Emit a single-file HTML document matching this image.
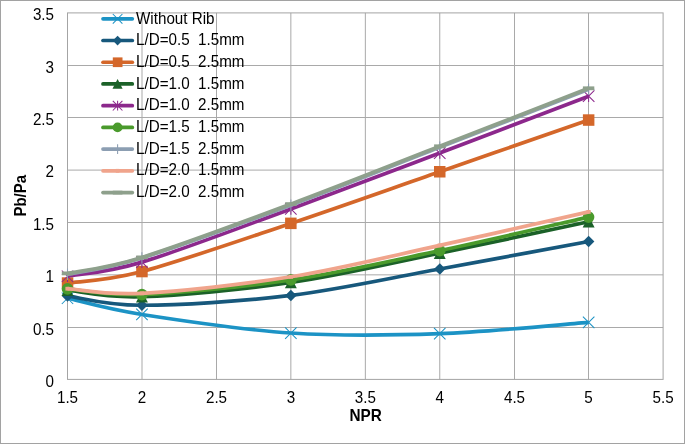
<!DOCTYPE html>
<html><head><meta charset="utf-8"><title>Chart</title>
<style>html,body{margin:0;padding:0;background:#fff}svg{display:block}text{font-family:"Liberation Sans",Arial,sans-serif;fill:#000;white-space:pre}</style></head>
<body>
<svg width="685" height="444" viewBox="0 0 685 444">
<rect x="0" y="0" width="685" height="444" fill="#fff"/>
<rect x="0.5" y="0.5" width="684" height="443" fill="none" stroke="#A2A2A2" stroke-width="1"/>
<path d="M142.00,12.90 V379.40 M216.50,12.90 V379.40 M290.85,12.90 V379.40 M365.35,12.90 V379.40 M439.75,12.90 V379.40 M514.50,12.90 V379.40 M588.50,12.90 V379.40 M67.50,65.50 H663.10 M67.50,117.50 H663.10 M67.50,170.10 H663.10 M67.50,222.50 H663.10 M67.50,274.85 H663.10 M67.50,327.50 H663.10" stroke="#A9A9A9" stroke-width="1" fill="none"/>
<rect x="67.5" y="12.9" width="595.6" height="366.5" fill="none" stroke="#A4A4A4" stroke-width="1"/>
<text transform="translate(54,20.1) scale(1,1.055)" font-size="15.2" text-anchor="end">3.5</text>
<text transform="translate(54,72.7) scale(1,1.055)" font-size="15.2" text-anchor="end">3</text>
<text transform="translate(54,124.7) scale(1,1.055)" font-size="15.2" text-anchor="end">2.5</text>
<text transform="translate(54,177.3) scale(1,1.055)" font-size="15.2" text-anchor="end">2</text>
<text transform="translate(54,229.7) scale(1,1.055)" font-size="15.2" text-anchor="end">1.5</text>
<text transform="translate(54,282.1) scale(1,1.055)" font-size="15.2" text-anchor="end">1</text>
<text transform="translate(54,334.7) scale(1,1.055)" font-size="15.2" text-anchor="end">0.5</text>
<text transform="translate(54,386.6) scale(1,1.055)" font-size="15.2" text-anchor="end">0</text>
<text transform="translate(67.5,402.8) scale(1,1.05)" font-size="15.2" text-anchor="middle">1.5</text>
<text transform="translate(142.0,402.8) scale(1,1.05)" font-size="15.2" text-anchor="middle">2</text>
<text transform="translate(216.5,402.8) scale(1,1.05)" font-size="15.2" text-anchor="middle">2.5</text>
<text transform="translate(290.9,402.8) scale(1,1.05)" font-size="15.2" text-anchor="middle">3</text>
<text transform="translate(365.4,402.8) scale(1,1.05)" font-size="15.2" text-anchor="middle">3.5</text>
<text transform="translate(439.8,402.8) scale(1,1.05)" font-size="15.2" text-anchor="middle">4</text>
<text transform="translate(514.5,402.8) scale(1,1.05)" font-size="15.2" text-anchor="middle">4.5</text>
<text transform="translate(588.5,402.8) scale(1,1.05)" font-size="15.2" text-anchor="middle">5</text>
<text transform="translate(663.1,402.8) scale(1,1.05)" font-size="15.2" text-anchor="middle">5.5</text>
<text transform="translate(365.7,421) scale(1.01,1.03)" font-size="15.2" font-weight="bold" text-anchor="middle">NPR</text>
<text transform="translate(25.6,195.8) rotate(-90) scale(0.985,1.07)" font-size="15.2" font-weight="bold" text-anchor="middle">Pb/Pa</text>
<path d="M67.50,298.25 C79.91,300.95 104.72,308.68 141.95,314.48 C179.17,320.27 241.22,329.82 290.85,333.01 C340.48,336.21 390.12,335.42 439.75,333.64 C489.38,331.86 563.83,324.22 588.65,322.33" stroke="#1C93C5" stroke-width="3.7" fill="none" stroke-linecap="butt" stroke-linejoin="round"/>
<path d="M61.8,292.5 L73.2,304.0 M61.8,304.0 L73.2,292.5" stroke="#1C93C5" stroke-width="1.05" fill="none"/>
<path d="M136.2,308.7 L147.7,320.2 M136.2,320.2 L147.7,308.7" stroke="#1C93C5" stroke-width="1.05" fill="none"/>
<path d="M285.1,327.3 L296.6,338.8 M285.1,338.8 L296.6,327.3" stroke="#1C93C5" stroke-width="1.05" fill="none"/>
<path d="M434.0,327.9 L445.5,339.4 M434.0,339.4 L445.5,327.9" stroke="#1C93C5" stroke-width="1.05" fill="none"/>
<path d="M582.9,316.6 L594.4,328.1 M582.9,328.1 L594.4,316.6" stroke="#1C93C5" stroke-width="1.05" fill="none"/>
<path d="M67.50,295.94 C79.91,297.50 104.72,305.35 141.95,305.26 C179.17,305.18 241.22,301.46 290.85,295.42 C340.48,289.38 390.12,278.02 439.75,269.03 C489.38,260.04 563.83,246.08 588.65,241.49" stroke="#17587C" stroke-width="3.7" fill="none" stroke-linecap="butt" stroke-linejoin="round"/>
<path d="M67.5,290.2 L73.2,295.9 L67.5,301.7 L61.8,295.9 Z" fill="#17587C"/>
<path d="M141.9,299.5 L147.7,305.3 L141.9,311.0 L136.2,305.3 Z" fill="#17587C"/>
<path d="M290.9,289.7 L296.6,295.4 L290.9,301.2 L285.1,295.4 Z" fill="#17587C"/>
<path d="M439.8,263.3 L445.5,269.0 L439.8,274.8 L434.0,269.0 Z" fill="#17587C"/>
<path d="M588.6,235.7 L594.4,241.5 L588.6,247.2 L582.9,241.5 Z" fill="#17587C"/>
<path d="M67.50,283.06 C79.91,281.14 104.72,281.49 141.95,271.54 C179.17,261.60 241.22,240.01 290.85,223.38 C340.48,206.74 390.12,188.98 439.75,171.75 C489.38,154.53 563.83,128.64 588.65,120.02" stroke="#D4672A" stroke-width="3.7" fill="none" stroke-linecap="butt" stroke-linejoin="round"/>
<rect x="61.8" y="277.3" width="11.5" height="11.5" fill="#D4672A"/>
<rect x="136.2" y="265.8" width="11.5" height="11.5" fill="#D4672A"/>
<rect x="285.1" y="217.6" width="11.5" height="11.5" fill="#D4672A"/>
<rect x="434.0" y="166.0" width="11.5" height="11.5" fill="#D4672A"/>
<rect x="582.9" y="114.3" width="11.5" height="11.5" fill="#D4672A"/>
<path d="M67.50,290.18 C79.91,291.27 104.72,297.95 141.95,296.68 C179.17,295.40 241.22,289.78 290.85,282.54 C340.48,275.30 390.12,263.34 439.75,253.22 C489.38,243.10 563.83,227.04 588.65,221.80" stroke="#1B6128" stroke-width="3.7" fill="none" stroke-linecap="butt" stroke-linejoin="round"/>
<path d="M67.5,284.4 L73.5,295.9 L61.5,295.9 Z" fill="#1B6128"/>
<path d="M141.9,290.9 L147.9,302.4 L136.0,302.4 Z" fill="#1B6128"/>
<path d="M290.9,276.8 L296.8,288.3 L284.9,288.3 Z" fill="#1B6128"/>
<path d="M439.8,247.5 L445.7,259.0 L433.8,259.0 Z" fill="#1B6128"/>
<path d="M588.6,216.1 L594.6,227.6 L582.7,227.6 Z" fill="#1B6128"/>
<path d="M67.50,276.26 C79.91,273.90 104.72,273.34 141.95,262.12 C179.17,250.90 241.22,227.11 290.85,208.93 C340.48,190.74 390.12,171.80 439.75,153.01 C489.38,134.21 563.83,105.62 588.65,96.15" stroke="#8C288C" stroke-width="3.7" fill="none" stroke-linecap="butt" stroke-linejoin="round"/>
<path d="M61.8,270.5 L73.2,282.0 M61.8,282.0 L73.2,270.5 M67.5,270.5 L67.5,282.0" stroke="#8C288C" stroke-width="1.05" fill="none"/>
<path d="M136.2,256.4 L147.7,267.9 M136.2,267.9 L147.7,256.4 M141.9,256.4 L141.9,267.9" stroke="#8C288C" stroke-width="1.05" fill="none"/>
<path d="M285.1,203.2 L296.6,214.7 M285.1,214.7 L296.6,203.2 M290.9,203.2 L290.9,214.7" stroke="#8C288C" stroke-width="1.05" fill="none"/>
<path d="M434.0,147.3 L445.5,158.8 M434.0,158.8 L445.5,147.3 M439.8,147.3 L439.8,158.8" stroke="#8C288C" stroke-width="1.05" fill="none"/>
<path d="M582.9,90.4 L594.4,101.9 M582.9,101.9 L594.4,90.4 M588.6,90.4 L588.6,101.9" stroke="#8C288C" stroke-width="1.05" fill="none"/>
<path d="M67.50,288.93 C79.91,289.87 104.72,296.08 141.95,294.58 C179.17,293.08 241.22,287.25 290.85,279.92 C340.48,272.59 390.12,261.07 439.75,250.60 C489.38,240.13 563.83,222.68 588.65,217.09" stroke="#4A9A2C" stroke-width="3.7" fill="none" stroke-linecap="butt" stroke-linejoin="round"/>
<circle cx="67.5" cy="288.9" r="5.8" fill="#4A9A2C"/>
<circle cx="141.9" cy="294.6" r="5.8" fill="#4A9A2C"/>
<circle cx="290.9" cy="279.9" r="5.8" fill="#4A9A2C"/>
<circle cx="439.8" cy="250.6" r="5.8" fill="#4A9A2C"/>
<circle cx="588.6" cy="217.1" r="5.8" fill="#4A9A2C"/>
<path d="M67.50,274.37 C79.91,271.63 104.72,269.47 141.95,257.93 C179.17,246.40 241.22,223.59 290.85,205.16 C340.48,186.73 390.12,166.66 439.75,147.35 C489.38,128.05 563.83,99.01 588.65,89.34" stroke="#8C9EB2" stroke-width="3.7" fill="none" stroke-linecap="butt" stroke-linejoin="round"/>
<path d="M61.8,274.4 L73.2,274.4 M67.5,268.6 L67.5,280.1" stroke="#8C9EB2" stroke-width="1.05" fill="none"/>
<path d="M136.2,257.9 L147.7,257.9 M141.9,252.2 L141.9,263.7" stroke="#8C9EB2" stroke-width="1.05" fill="none"/>
<path d="M285.1,205.2 L296.6,205.2 M290.9,199.4 L290.9,210.9" stroke="#8C9EB2" stroke-width="1.05" fill="none"/>
<path d="M434.0,147.4 L445.5,147.4 M439.8,141.6 L439.8,153.1" stroke="#8C9EB2" stroke-width="1.05" fill="none"/>
<path d="M582.9,89.3 L594.4,89.3 M588.6,83.6 L588.6,95.1" stroke="#8C9EB2" stroke-width="1.05" fill="none"/>
<path d="M67.50,288.72 C79.91,289.49 104.72,295.31 141.95,293.32 C179.17,291.34 241.22,284.77 290.85,276.78 C340.48,268.79 390.12,256.19 439.75,245.37 C489.38,234.55 563.83,217.44 588.65,211.86" stroke="#F0A48C" stroke-width="3.7" fill="none" stroke-linecap="butt" stroke-linejoin="round"/>
<rect x="65.4" y="286.8" width="4.2" height="3.8" fill="#F0A48C"/>
<rect x="139.8" y="291.4" width="4.2" height="3.8" fill="#F0A48C"/>
<rect x="288.8" y="274.9" width="4.2" height="3.8" fill="#F0A48C"/>
<rect x="437.6" y="243.5" width="4.2" height="3.8" fill="#F0A48C"/>
<rect x="586.5" y="210.0" width="4.2" height="3.8" fill="#F0A48C"/>
<path d="M67.50,273.43 C79.91,270.76 104.72,268.96 141.95,257.41 C179.17,245.85 241.22,222.63 290.85,204.11 C340.48,185.59 390.12,165.61 439.75,146.31 C489.38,127.00 563.83,97.96 588.65,88.29" stroke="#8EA08C" stroke-width="3.7" fill="none" stroke-linecap="butt" stroke-linejoin="round"/>
<rect x="61.8" y="271.5" width="11.4" height="3.8" fill="#8EA08C"/>
<rect x="136.2" y="255.5" width="11.4" height="3.8" fill="#8EA08C"/>
<rect x="285.2" y="202.2" width="11.4" height="3.8" fill="#8EA08C"/>
<rect x="434.1" y="144.4" width="11.4" height="3.8" fill="#8EA08C"/>
<rect x="582.9" y="86.4" width="11.4" height="3.8" fill="#8EA08C"/>
<path d="M103,18.80 H132.3" stroke="#1C93C5" stroke-width="3.7" stroke-linecap="round" fill="none"/>
<path d="M112.8,14.0 L122.4,23.6 M112.8,23.6 L122.4,14.0" stroke="#1C93C5" stroke-width="1.05" fill="none"/>
<text transform="translate(136,23.80) scale(1,1.06)" font-size="15.2" xml:space="preserve">Without Rib</text>
<path d="M103,40.52 H132.3" stroke="#17587C" stroke-width="3.7" stroke-linecap="round" fill="none"/>
<path d="M117.6,35.7 L122.4,40.5 L117.6,45.4 L112.8,40.5 Z" fill="#17587C"/>
<text transform="translate(136,45.45) scale(1,1.06)" font-size="15.2" xml:space="preserve">L/D=0.5  1.5mm</text>
<path d="M103,62.24 H132.3" stroke="#D4672A" stroke-width="3.7" stroke-linecap="round" fill="none"/>
<rect x="112.8" y="57.4" width="9.7" height="9.7" fill="#D4672A"/>
<text transform="translate(136,67.10) scale(1,1.06)" font-size="15.2" xml:space="preserve">L/D=0.5  2.5mm</text>
<path d="M103,83.96 H132.3" stroke="#1B6128" stroke-width="3.7" stroke-linecap="round" fill="none"/>
<path d="M117.6,79.1 L122.6,88.8 L112.5,88.8 Z" fill="#1B6128"/>
<text transform="translate(136,88.75) scale(1,1.06)" font-size="15.2" xml:space="preserve">L/D=1.0  1.5mm</text>
<path d="M103,105.68 H132.3" stroke="#8C288C" stroke-width="3.7" stroke-linecap="round" fill="none"/>
<path d="M112.8,100.8 L122.4,110.5 M112.8,110.5 L122.4,100.8 M117.6,100.8 L117.6,110.5" stroke="#8C288C" stroke-width="1.05" fill="none"/>
<text transform="translate(136,110.40) scale(1,1.06)" font-size="15.2" xml:space="preserve">L/D=1.0  2.5mm</text>
<path d="M103,127.40 H132.3" stroke="#4A9A2C" stroke-width="3.7" stroke-linecap="round" fill="none"/>
<circle cx="117.6" cy="127.4" r="4.9" fill="#4A9A2C"/>
<text transform="translate(136,132.05) scale(1,1.06)" font-size="15.2" xml:space="preserve">L/D=1.5  1.5mm</text>
<path d="M103,149.12 H132.3" stroke="#8C9EB2" stroke-width="3.7" stroke-linecap="round" fill="none"/>
<path d="M112.8,149.1 L122.4,149.1 M117.6,144.3 L117.6,154.0" stroke="#8C9EB2" stroke-width="1.05" fill="none"/>
<text transform="translate(136,153.70) scale(1,1.06)" font-size="15.2" xml:space="preserve">L/D=1.5  2.5mm</text>
<path d="M103,170.84 H132.3" stroke="#F0A48C" stroke-width="3.7" stroke-linecap="round" fill="none"/>
<rect x="115.8" y="168.9" width="3.5" height="3.8" fill="#F0A48C"/>
<text transform="translate(136,175.35) scale(1,1.06)" font-size="15.2" xml:space="preserve">L/D=2.0  1.5mm</text>
<path d="M103,192.56 H132.3" stroke="#8EA08C" stroke-width="3.7" stroke-linecap="round" fill="none"/>
<rect x="112.8" y="190.7" width="9.6" height="3.8" fill="#8EA08C"/>
<text transform="translate(136,197.00) scale(1,1.06)" font-size="15.2" xml:space="preserve">L/D=2.0  2.5mm</text>
</svg></body></html>
